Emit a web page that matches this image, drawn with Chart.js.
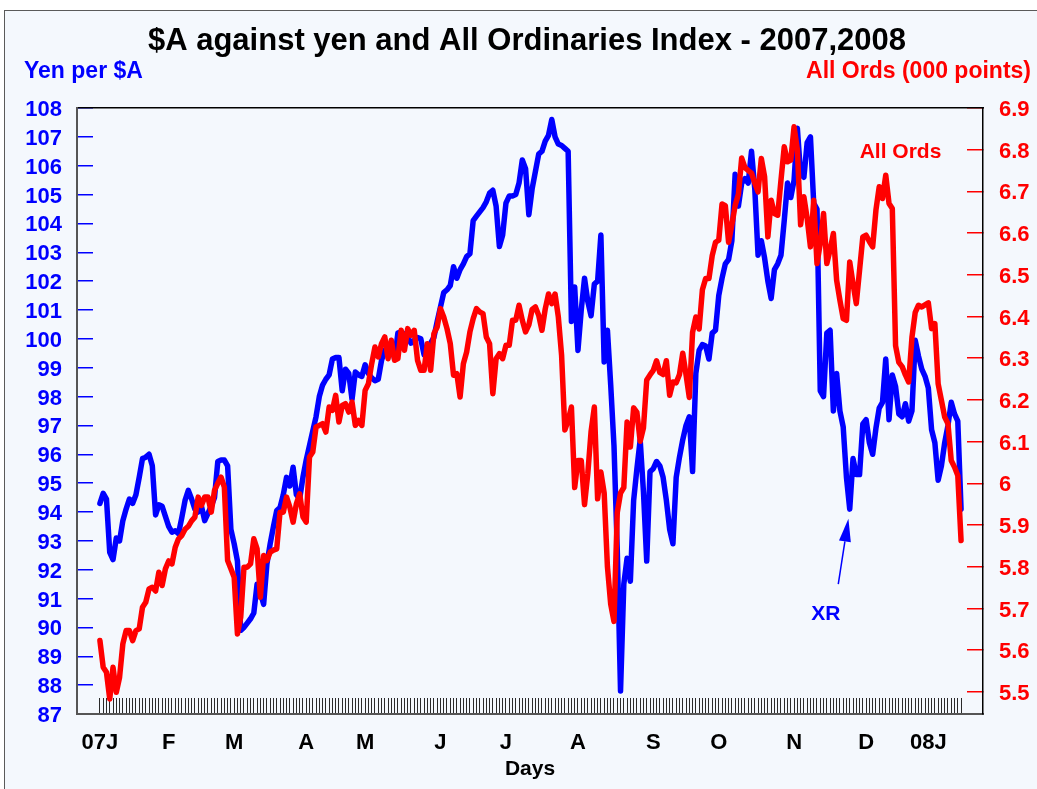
<!DOCTYPE html>
<html>
<head>
<meta charset="utf-8">
<script src="https://cdn.jsdelivr.net/npm/chart.js@4/dist/chart.umd.min.js"></script>
<style>
  html, body { margin: 0; padding: 0; background: #ffffff; }
  #frame { position: absolute; left: 4px; top: 10px; width: 1045px; height: 800px;
           border: 1px solid #5a5a5a; background: #F4F8FD; }
  #wrap { position: absolute; left: 0; top: 0; width: 1037px; height: 789px; }
</style>
</head>
<body>
<div id="frame"></div>
<div id="wrap"><canvas id="chart" width="1037" height="789"></canvas></div>
<script>
// ---- Data (trading days, Jan 2007 - mid Jan 2008) ----
const monthLabels   = ['07J','F','M','A','M','J','J','A','S','O','N','D','08J'];
const monthStartDay = [0, 21, 41, 63, 81, 104, 124, 146, 169, 189, 212, 234, 253];

// Yen per $A (left axis)
const xrYen = [
  94.3,94.65,94.45,92.6,92.35,93.1,93.0,93.7,94.1,94.45,
  94.3,94.6,95.2,95.85,95.9,96.0,95.6,93.9,94.25,94.2,
  93.85,93.5,93.3,93.35,93.25,93.8,94.4,94.75,94.45,94.1,
  94.0,94.2,93.7,93.95,94.2,94.5,95.75,95.8,95.8,95.6,
  93.4,92.9,92.3,89.9,90.0,90.15,90.3,90.5,91.5,91.2,
  90.8,92.2,92.9,93.5,94.05,94.15,94.6,95.2,94.9,95.55,
  94.6,94.45,95.2,95.8,96.3,96.8,97.3,98.0,98.4,98.6,
  98.75,99.3,99.35,99.35,98.2,98.95,98.8,97.9,98.85,98.75,
  98.7,99.1,98.8,98.65,98.55,98.6,99.25,99.6,99.75,99.85,
  99.3,100.2,100.25,100.15,100.05,99.85,99.95,100.05,100.0,99.45,
  99.7,99.85,100.05,100.6,101.1,101.6,101.7,101.85,102.5,102.1,
  102.4,102.6,102.85,102.95,104.1,104.25,104.4,104.55,104.75,105.05,
  105.15,104.6,103.2,103.6,104.7,104.95,104.95,105.0,105.4,106.2,
  105.9,104.3,105.2,105.8,106.4,106.5,106.85,107.05,107.6,107.0,
  106.75,106.7,106.6,106.5,100.6,101.8,99.6,101.0,102.1,101.3,
  100.8,101.9,102.0,103.6,99.2,100.3,98.4,96.3,92.7,87.8,
  91.5,92.4,91.6,94.4,95.5,96.5,94.7,92.3,95.4,95.5,
  95.75,95.6,95.2,94.4,93.4,92.9,95.2,95.9,96.5,97.0,
  97.3,95.4,98.8,99.6,99.8,99.75,99.3,100.2,100.3,101.5,
  102.1,102.6,102.75,103.4,105.7,104.6,105.4,105.55,105.4,106.5,
  105.2,102.9,103.4,102.8,102.0,101.4,102.4,102.6,102.9,104.1,
  105.4,104.9,105.5,107.3,105.7,105.6,106.8,107.0,104.7,104.5,
  98.2,98.0,100.2,100.3,97.5,98.8,97.5,96.95,95.2,94.1,
  95.85,95.3,95.3,97.05,97.2,96.4,96.0,96.9,97.6,97.8,
  99.3,97.2,98.75,98.35,97.4,97.3,97.75,97.15,97.5,99.95,
  99.4,98.95,98.7,98.3,96.85,96.4,95.1,95.6,96.4,97.0,
  97.8,97.4,97.15,94.1
];

// All Ordinaries index, thousands of points (right axis)
const allOrds = [
  5.623,5.559,5.547,5.483,5.559,5.499,5.535,5.615,5.647,5.647,
  5.623,5.647,5.651,5.703,5.715,5.747,5.751,5.742,5.787,5.755,
  5.795,5.814,5.807,5.847,5.867,5.875,5.89,5.897,5.91,5.919,
  5.967,5.947,5.967,5.967,5.931,5.983,6.0,6.015,5.991,5.815,
  5.795,5.775,5.639,5.679,5.799,5.799,5.807,5.867,5.843,5.727,
  5.827,5.815,5.835,5.84,5.843,5.931,5.931,5.967,5.943,5.907,
  5.951,5.975,5.92,5.907,6.063,6.075,6.135,6.139,6.143,6.123,
  6.183,6.175,6.211,6.147,6.187,6.191,6.171,6.195,6.139,6.151,
  6.139,6.223,6.239,6.287,6.327,6.303,6.335,6.351,6.299,6.343,
  6.295,6.299,6.367,6.319,6.371,6.355,6.367,6.295,6.271,6.271,
  6.335,6.271,6.359,6.375,6.419,6.399,6.371,6.335,6.259,6.263,
  6.207,6.287,6.315,6.363,6.395,6.419,6.411,6.407,6.351,6.335,
  6.215,6.299,6.311,6.299,6.331,6.331,6.391,6.391,6.427,6.391,
  6.363,6.38,6.417,6.423,6.403,6.367,6.418,6.454,6.431,6.454,
  6.399,6.307,6.128,6.151,6.183,5.99,6.055,6.055,5.949,6.023,
  6.124,6.183,5.963,6.027,5.977,5.80,5.71,5.669,5.93,5.977,
  5.99,6.147,6.087,6.181,6.17,6.101,6.133,6.248,6.26,6.271,
  6.294,6.266,6.261,6.294,6.211,6.243,6.241,6.261,6.312,6.261,
  6.206,6.362,6.399,6.37,6.464,6.491,6.491,6.546,6.578,6.583,
  6.67,6.666,6.578,6.62,6.666,6.693,6.78,6.757,6.75,6.744,
  6.72,6.699,6.779,6.735,6.591,6.679,6.647,6.643,6.727,6.807,
  6.771,6.775,6.855,6.80,6.62,6.687,6.635,6.567,6.679,6.527,
  6.575,6.647,6.527,6.56,6.599,6.487,6.439,6.395,6.391,6.531,
  6.479,6.431,6.511,6.591,6.595,6.58,6.567,6.655,6.711,6.683,
  6.739,6.671,6.659,6.33,6.29,6.28,6.26,6.243,6.35,6.41,
  6.427,6.423,6.428,6.433,6.371,6.383,6.239,6.199,6.159,6.143,
  6.055,6.039,6.019,5.863
];

const rightTicks = [5.5,5.6,5.7,5.8,5.9,6.0,6.1,6.2,6.3,6.4,6.5,6.6,6.7,6.8,6.9];

// Annotation anchors in data units
const allOrdsNote = { text: 'All Ords', day: 244.5, ords: 6.795 };
const xrNote      = { text: 'XR', day: 221.7, yen: 90.45 };
const xrArrow     = { fromDay: 225.5, fromYen: 91.5, toDay: 228.6, toYen: 93.77 };

// ---- Styling ----
const FONT = '"Liberation Sans", Arial, Helvetica, sans-serif';
const BLUE = '#0000FF';
const RED  = '#FF0000';
const days = xrYen.map((_, i) => i);

const textPlugin = {
  id: 'textPlugin',
  afterDraw(chart) {
    const ctx = chart.ctx;
    const xs = chart.scales.x, ys = chart.scales.y, y2 = chart.scales.y2;
    ctx.save();
    ctx.textBaseline = 'middle';
    // Title
    ctx.font = 'bold 31px ' + FONT;
    ctx.fillStyle = '#000';
    ctx.textAlign = 'center';
    ctx.fillText('$A against yen and All Ordinaries Index - 2007,2008', 527, 41);
    // Axis unit labels
    ctx.font = 'bold 23px ' + FONT;
    ctx.fillStyle = BLUE;
    ctx.textAlign = 'left';
    ctx.fillText('Yen per $A', 24, 72);
    ctx.fillStyle = RED;
    ctx.textAlign = 'right';
    ctx.fillText('All Ords (000 points)', 1031, 72);
    // Annotations
    ctx.font = 'bold 21px ' + FONT;
    ctx.textAlign = 'center';
    ctx.fillStyle = RED;
    ctx.fillText(allOrdsNote.text, xs.getPixelForValue(allOrdsNote.day), y2.getPixelForValue(allOrdsNote.ords));
    ctx.fillStyle = BLUE;
    ctx.fillText(xrNote.text, xs.getPixelForValue(xrNote.day), ys.getPixelForValue(xrNote.yen));
    // Arrow
    const x0 = xs.getPixelForValue(xrArrow.fromDay), y0 = ys.getPixelForValue(xrArrow.fromYen);
    const x1 = xs.getPixelForValue(xrArrow.toDay),   yA = ys.getPixelForValue(xrArrow.toYen);
    const ang = Math.atan2(yA - y0, x1 - x0);
    const headLen = 23, headHalf = 6;
    const bx = x1 - headLen * Math.cos(ang), by = yA - headLen * Math.sin(ang);
    ctx.strokeStyle = BLUE;
    ctx.lineWidth = 1.5;
    ctx.beginPath(); ctx.moveTo(x0, y0); ctx.lineTo(bx, by); ctx.stroke();
    ctx.beginPath();
    ctx.moveTo(x1, yA);
    ctx.lineTo(bx + headHalf * Math.sin(ang), by - headHalf * Math.cos(ang));
    ctx.lineTo(bx - headHalf * Math.sin(ang), by + headHalf * Math.cos(ang));
    ctx.closePath();
    ctx.fill();
    ctx.restore();
  }
};

new Chart(document.getElementById('chart'), {
  type: 'line',
  data: {
    datasets: [
      {
        label: 'All Ords',
        data: allOrds.map((v, i) => ({ x: days[i], y: v })),
        yAxisID: 'y2', xAxisID: 'x',
        borderColor: RED, backgroundColor: RED,
        borderWidth: 5.5, pointRadius: 0, tension: 0,
        borderJoinStyle: 'round', borderCapStyle: 'round'
      },
      {
        label: 'XR',
        data: xrYen.map((v, i) => ({ x: days[i], y: v })),
        yAxisID: 'y', xAxisID: 'x',
        borderColor: BLUE, backgroundColor: BLUE,
        borderWidth: 5.5, pointRadius: 0, tension: 0,
        borderJoinStyle: 'round', borderCapStyle: 'round'
      }
    ]
  },
  options: {
    responsive: false,
    animation: false,
    events: [],
    layout: { padding: { top: 108, left: 0, right: 0, bottom: 0 } },
    plugins: { legend: { display: false }, tooltip: { enabled: false }, title: { display: false } },
    scales: {
      x: {
        type: 'linear', position: 'bottom', min: -7, max: 269.7,
        afterBuildTicks: s => { s.ticks = days.map(d => ({ value: d })); },
        ticks: {
          autoSkip: false, maxRotation: 0, minRotation: 0, padding: 32,
          color: '#000', font: { family: FONT, size: 22, weight: 'bold' },
          callback: v => { const k = monthStartDay.indexOf(v); return k >= 0 ? monthLabels[k] : ''; }
        },
        grid: { drawOnChartArea: false, drawTicks: true, tickLength: -16, color: '#2a2a2a', lineWidth: 1 },
        border: { display: true, color: '#555', width: 2 },
        title: { display: true, text: 'Days', color: '#000',
                 font: { family: FONT, size: 21, weight: 'bold' }, padding: { top: 0, bottom: 7 } },
        afterFit: s => { s.height = 75; }
      },
      xTop: {
        type: 'linear', position: 'top', min: 0, max: 1,
        ticks: { display: false },
        grid: { display: true, drawOnChartArea: false, drawTicks: false },
        border: { display: true, color: '#000', width: 1.5 },
        afterFit: s => { s.height = 0; }
      },
      y: {
        type: 'linear', position: 'left', min: 87, max: 108,
        ticks: { stepSize: 1, autoSkip: false, padding: 31, labelOffset: 2, color: BLUE,
                 font: { family: FONT, size: 22, weight: 'bold' } },
        grid: { drawOnChartArea: false, drawTicks: true, tickLength: -16, color: BLUE, lineWidth: 1.5 },
        border: { display: true, color: '#555', width: 2 },
        afterFit: s => { s.width = 77; }
      },
      y2: {
        type: 'linear', position: 'right', min: 5.447, max: 6.9,
        afterBuildTicks: s => { s.ticks = rightTicks.map(v => ({ value: v })); },
        ticks: { autoSkip: false, padding: 32, labelOffset: 2, color: RED,
                 font: { family: FONT, size: 22, weight: 'bold' },
                 callback: v => String(Number(v.toFixed(1))) },
        grid: { drawOnChartArea: false, drawTicks: true, tickLength: -16, color: RED, lineWidth: 1.5 },
        border: { display: true, color: '#000', width: 1.5 },
        afterFit: s => { s.width = 54; }
      }
    }
  },
  plugins: [textPlugin]
});
</script>
</body>
</html>
